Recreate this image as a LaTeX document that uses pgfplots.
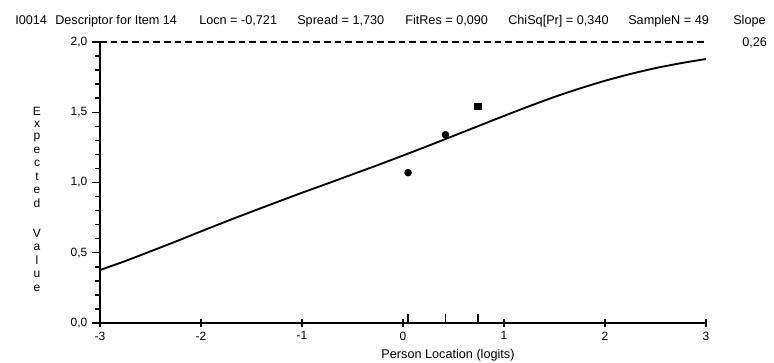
\documentclass[border=0pt]{standalone}
\usepackage{pgfplots}
\pgfplotsset{compat=1.18}
\usepackage{fontspec}
\setmainfont{Liberation Sans}
\begin{document}
\begin{tikzpicture}
\useasboundingbox (0,0) rectangle (580.5pt,272.25pt);
\begin{axis}[
  at={(75pt,30pt)}, anchor=south west, scale only axis,
  width=454.5pt, height=210.75pt,
  xmin=-3, xmax=3, ymin=0, ymax=2,
  axis x line*=bottom, axis y line*=left,
  x axis line style={line width=1.4pt,-},
  y axis line style={line width=2.2pt,-},
  xtick={-3,-2,-1,0,1,2,3},
  xticklabels={-3,-2,-1,0,1,2,3},
  ytick={0,0.5,1,1.5,2},
  yticklabels={{0,0},{0,5},{1,0},{1,5},{2,0}},
  minor y tick num=4,
  xtick align=center, ytick align=outside,
  major tick length=6pt, minor tick length=3.5pt,
  every tick/.style={black, line width=1.1pt},
  tick label style={font=\fontsize{9}{10}\selectfont},
  clip=false,
]
\addplot[black, line width=1.4pt, smooth] coordinates {
(-3,0.377)(-2.75,0.441)(-2.5,0.510)(-2.25,0.580)(-2,0.652)(-1.75,0.723)
(-1.5,0.792)(-1.25,0.860)(-1,0.927)(-0.75,0.992)(-0.5,1.058)(-0.25,1.124)
(0,1.192)(0.25,1.261)(0.5,1.332)(0.75,1.403)(1,1.474)(1.25,1.543)
(1.5,1.609)(1.75,1.669)(2,1.724)(2.25,1.772)(2.5,1.814)(2.75,1.849)(3,1.879)};
\addplot[black, dash pattern=on 5pt off 3pt, line width=1pt] coordinates {(-3,2)(3,2)};
\addplot[only marks, mark=*, mark size=2.6pt, black] coordinates {(0.05,1.07)(0.42,1.34)};
\addplot[only marks, mark=square*, mark size=2.3pt, black] coordinates {(0.74,1.54)};
\addplot[ycomb, line width=1.3pt, black, mark=none] coordinates {(0.05,0.065)(0.42,0.065)(0.74,0.065)};
\end{axis}
\begin{scope}[x=0.75pt,y=-0.75pt,yshift=272.25pt, every node/.style={inner sep=0pt, font=\fontsize{9.5}{11}\selectfont}]
\node[anchor=base west] at (15,25) {I0014};
\node[anchor=base west] at (55,25) {Descriptor for Item 14};
\node[anchor=base west] at (199,25) {Locn = -0,721};
\node[anchor=base west] at (297,25) {Spread = 1,730};
\node[anchor=base west] at (405,25) {FitRes = 0,090};
\node[anchor=base west] at (508,25) {ChiSq[Pr] = 0,340};
\node[anchor=base west] at (628,25) {SampleN = 49};
\node[anchor=base west] at (733,25) {Slope};
\node[anchor=base west] at (742,47) {0,26};
\node[anchor=base] at (448,359) {Person Location (logits)};
\foreach \l/\p in {E/111,x/124.2,p/137.4,e/150.6,c/163.8,t/177,e/190.2,d/203.4,V/233,a/247,l/260,u/274,e/288}
  \node[font=\fontsize{9}{10}\selectfont] at (37,\p) {\l};
\end{scope}
\end{tikzpicture}
\end{document}
